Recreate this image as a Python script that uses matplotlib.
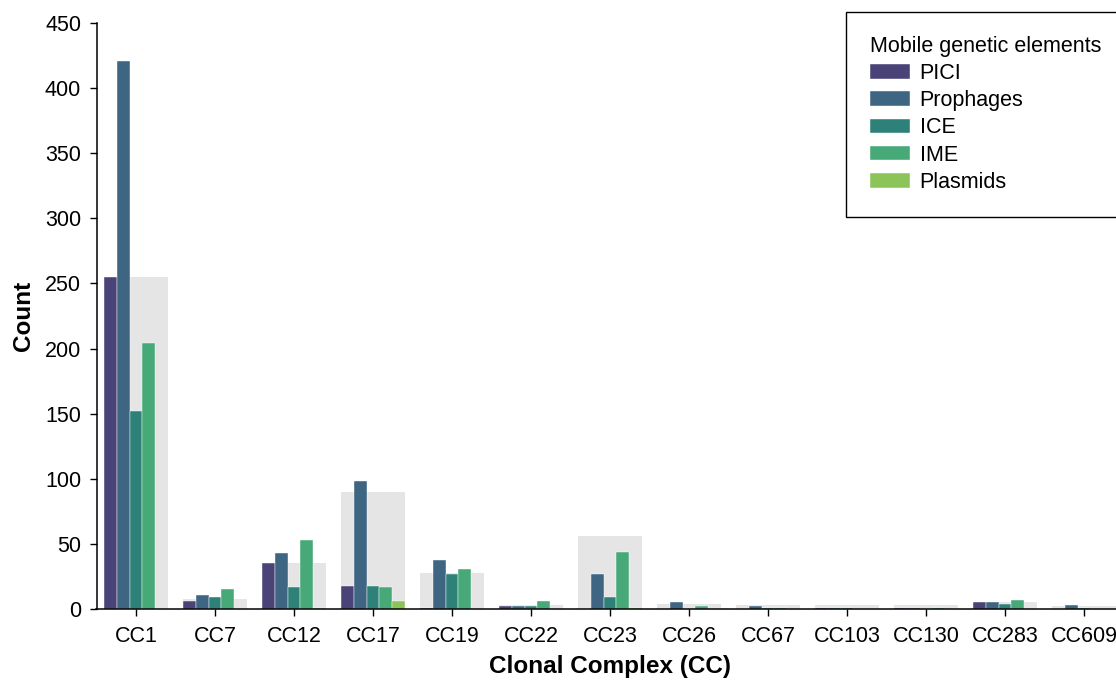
import numpy as np
import matplotlib
matplotlib.use("Agg")
import matplotlib.pyplot as plt

plt.rcParams["font.family"] = ["Liberation Sans", "DejaVu Sans"]

# counts per clonal complex
ccs = ["CC1", "CC7", "CC12", "CC17", "CC19", "CC22", "CC23",
       "CC26", "CC67", "CC103", "CC130", "CC283", "CC609"]
genomes = [255, 8, 35, 90, 28, 3, 56, 4, 3, 3, 3, 5, 2]
pici = [255, 6, 35, 18, 1, 2, 0, 0, 0, 1, 1, 5, 0]
prophages = [421, 11, 43, 98, 38, 2, 27, 5, 2, 1, 1, 5, 3]
ice = [152, 9, 17, 18, 27, 2, 9, 0, 1, 1, 0, 4, 1]
ime = [204, 15, 53, 17, 31, 6, 44, 2, 1, 0, 1, 7, 0]
plasmids = [0, 0, 1, 6, 0, 0, 1, 0, 0, 0, 0, 0, 0]

mge_names = ["PICI", "Prophages", "ICE", "IME", "Plasmids"]
mge_values = [pici, prophages, ice, ime, plasmids]
mge_colors = ["#4a4378", "#3e6683", "#2e8179", "#47a878", "#8bc458"]

W, H = 1116, 681
fig = plt.figure(figsize=(W / 100, H / 100), dpi=100)
ax = fig.add_axes([96.5 / W, 1 - 609 / H, (1123.5 - 96.5) / W, (609 - 23) / H])

x = np.arange(len(ccs))
group_w = 0.8
bw = group_w / len(mge_names)

ax.bar(x, genomes, width=group_w, color="#e5e5e5", zorder=1)
for k, (name, vals, col) in enumerate(zip(mge_names, mge_values, mge_colors)):
    off = -group_w / 2 + bw * (k + 0.5)
    ax.bar(x + off, vals, width=bw, color=col, label=name, zorder=2,
           edgecolor="#ffffff", linewidth=0.3)

ax.set_xlim(-0.5, len(ccs) - 0.5)
ax.set_ylim(0, 450)
ax.set_yticks(np.arange(0, 451, 50))
ax.set_xticks(x)
ax.set_xticklabels(ccs)
ax.tick_params(labelsize=15.5, length=5, width=1, color="black")
ax.tick_params(axis="x", pad=7)
ax.tick_params(axis="y", pad=6)
for s in ("top", "right"):
    ax.spines[s].set_visible(False)
for s in ("left", "bottom"):
    ax.spines[s].set_linewidth(1.1)

ax.set_xlabel("Clonal Complex (CC)", fontsize=17.5, fontweight="bold", labelpad=6)
ax.set_ylabel("Count", fontsize=17.5, fontweight="bold", labelpad=7)

leg = ax.legend(title="Mobile genetic elements", fontsize=15.5, title_fontsize=15.5,
                loc="upper left", bbox_to_anchor=(846 / W, 1 - 12 / H),
                bbox_transform=fig.transFigure, borderaxespad=0,
                fancybox=False, edgecolor="black", framealpha=1,
                handlelength=1.85, handleheight=0.65, labelspacing=0.29,
                borderpad=1.1, handletextpad=0.47)
leg.get_frame().set_linewidth(1.0)
leg._legend_box.align = "left"

fig.savefig("out.png", dpi=100)
